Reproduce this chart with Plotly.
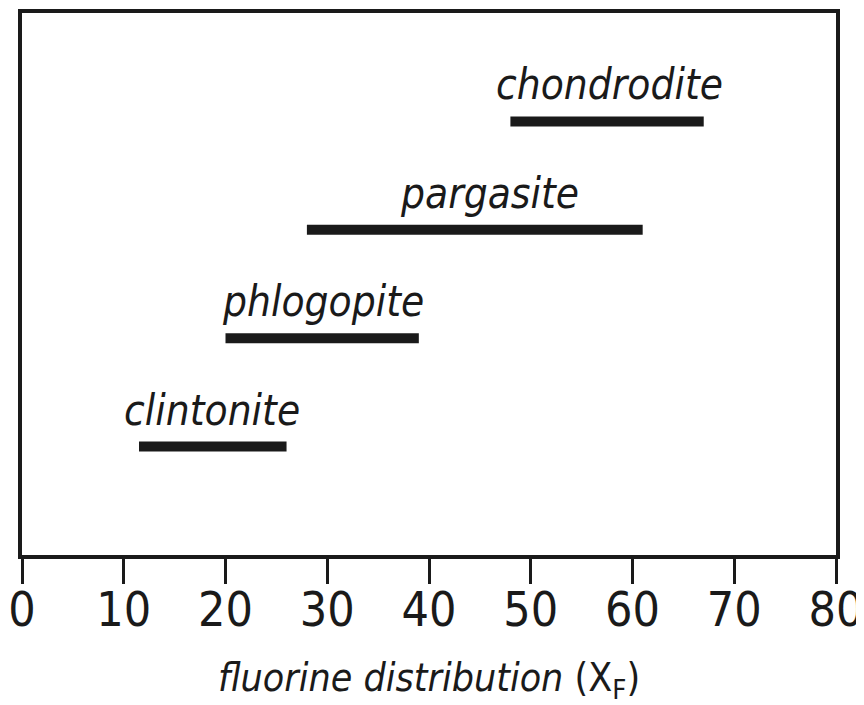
import plotly.graph_objects as go

minerals = ["clintonite", "phlogopite", "pargasite", "chondrodite"]
x_start = [11.5, 20, 28, 48]
x_end = [26, 39, 61, 67]
label_x = [18.7, 29.6, 45.9, 57.7]
row = [1, 2, 3, 4]
tick_vals = [0, 10, 20, 30, 40, 50, 60, 70, 80]

FONT = "DejaVu Sans Condensed, Liberation Sans Narrow, sans-serif"
INK = "#1a1a1a"

fig = go.Figure()
for name, a, b, lx, r in zip(minerals, x_start, x_end, label_x, row):
    fig.add_trace(go.Scatter(x=[a, b], y=[r, r], mode="lines",
                             line=dict(color=INK, width=10), showlegend=False,
                             hoverinfo="skip"))
    fig.add_annotation(x=lx, y=r, text="<i>" + name + "</i>",
                       showarrow=False, yanchor="bottom", yshift=10,
                       font=dict(family=FONT, size=42, color=INK))

fig.update_layout(
    width=856, height=697,
    margin=dict(l=14, r=28, t=5, b=150, autoexpand=False),
    plot_bgcolor="white", paper_bgcolor="white",
    showlegend=False,
)
fig.update_xaxes(range=[0, 80], tickvals=tick_vals, ticks="outside", ticklen=25,
                 tickwidth=3, tickcolor=INK, showline=True, linewidth=4,
                 linecolor=INK, mirror=True, showgrid=False, zeroline=False,
                 automargin=False, ticklabelstandoff=-16,
                 tickfont=dict(family=FONT, size=48, color=INK),
                 title=dict(text="<i>fluorine distribution</i> (X<sub>F</sub>)",
                            font=dict(family=FONT, size=39, color=INK), standoff=32))
fig.update_yaxes(range=[0, 5], showticklabels=False, ticks="", showline=True,
                 linewidth=4, linecolor=INK, mirror=True, showgrid=False,
                 zeroline=False, automargin=False)

fig.write_html("out.html")
